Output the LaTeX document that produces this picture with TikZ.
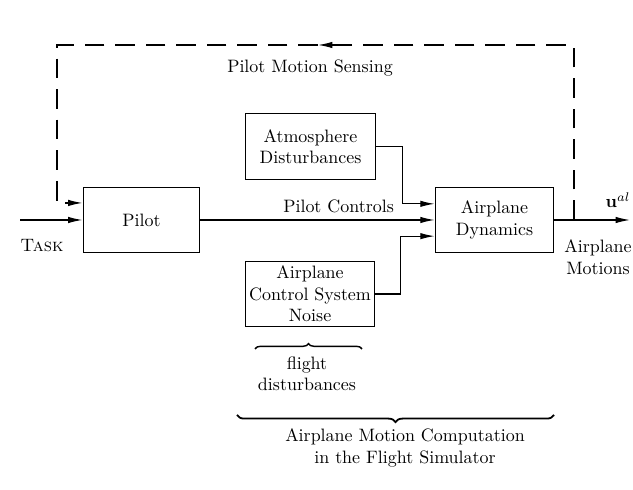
\documentclass[tikz,border=0pt]{standalone}
\usepackage{amsmath}
\usetikzlibrary{arrows.meta, positioning, decorations.pathreplacing}

\begin{document}
\begin{tikzpicture}[
  x=0.557pt, y=0.557pt,
  box/.style={draw, line width=0.7pt, align=center, inner sep=2pt},
  arr/.style={-{Latex[length=8pt, width=3.6pt]}, line width=0.7pt},
  fb/.style={arr, dash pattern=on 11pt off 6pt},
  brc/.style={decorate, line width=0.8pt}
]
\useasboundingbox (0,0) rectangle (633,490);

% blocks
\node[box, minimum width=65pt, minimum height=36pt] (pilot) at (141.5,270) {Pilot};
\node[box, minimum width=66pt, minimum height=36pt] (dyn) at (494.5,270) {Airplane\\Dynamics};
\node[box, minimum width=72pt, minimum height=37pt] (atmos) at (310.5,343.5) {Atmosphere\\Disturbances};
\node[box, minimum width=72pt, minimum height=36pt] (noise) at (310,196) {Airplane\\Control System\\Noise};

% labels
\node (tasklbl) at (42,244) {\textsc{Task}};
\node (sensing) at (310,422) {Pilot Motion Sensing};
\node (uvec) at (618,290) {$\mathbf{u}^{al}$};
\node[align=center] (motions) at (598,233) {Airplane\\Motions};
\node[align=center] (flightlbl) at (307,116) {flight\\disturbances};
\node[align=center] (simlbl) at (405,42) {Airplane Motion Computation\\in the Flight Simulator};

\coordinate (task) at (20,270);
\coordinate (out) at (630,270);
\coordinate (jn) at (574,270);
\coordinate (fbtr) at (574,445);
\coordinate (fbmid) at (318,445);
\coordinate (fbtl) at (57,445);
\coordinate[right=15pt of atmos.east] (ta);
\coordinate[right=14pt of noise.east] (tn);

% signal flow
\draw[arr] (task) -- (pilot.west);
\draw[arr] (pilot.east) -- node[above, pos=0.59] {Pilot Controls} (dyn.west);
\draw[arr] (atmos.east) -- (ta) |- ([yshift=9pt]dyn.west);
\draw[arr] (noise.east) -- (tn) |- ([yshift=-9pt]dyn.west);
\draw[arr] (dyn.east) -- (out);

% motion feedback
\draw[fb] (jn) -- (fbtr) -- (fbmid);
\draw[fb] (fbmid) -- (fbtl) |- ([yshift=9.5pt]pilot.west);

% braces
\draw[brc, decoration={brace, amplitude=3pt}] (255,141) -- (362,141);
\draw[brc, decoration={brace, mirror, amplitude=4pt}, line width=1pt] (237,75) -- (554,75);
\end{tikzpicture}
\end{document}
